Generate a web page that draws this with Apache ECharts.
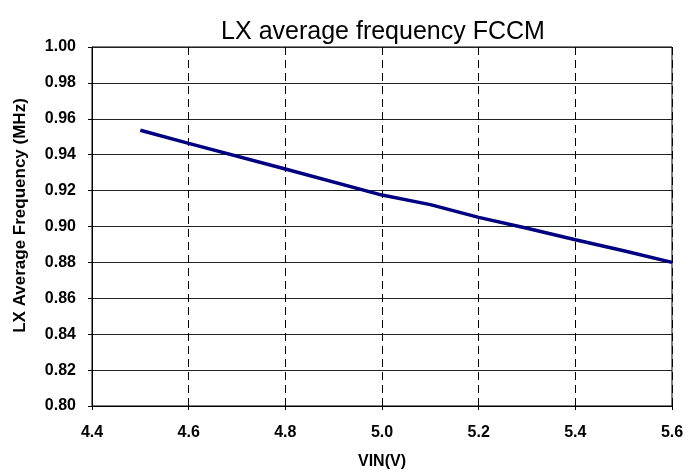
<!DOCTYPE html>
<html><head><meta charset="utf-8">
<script src="https://cdn.jsdelivr.net/npm/echarts@6/dist/echarts.min.js"></script>
<style>html,body{margin:0;padding:0;background:#fff}#c{width:700px;height:475px}</style>
</head><body><div id="c"></div>
<script>
const vin = [4.5, 4.6, 4.8, 5.0, 5.1, 5.2, 5.3, 5.4, 5.5, 5.6];
const freq = [0.9536, 0.9463, 0.932, 0.9175, 0.9122, 0.9051, 0.899, 0.8926, 0.8865, 0.880];
const titleText = 'LX average frequency FCCM';
const xName = 'VIN(V)';
const yName = 'LX Average Frequency (MHz)';

const font = 'Liberation Sans, Arial, sans-serif';
const chart = echarts.init(document.getElementById('c'));
chart.setOption({
  animation: false,
  backgroundColor: '#fff',
  title: {
    text: titleText, left: 378, top: 15, textAlign: 'center',
    textStyle: { fontFamily: font, fontSize: 25, fontWeight: 'normal', color: '#000' }
  },
  grid: { left: 92, right: 28, top: 47, bottom: 65, show: true, borderColor: '#000', borderWidth: 1 },
  xAxis: {
    type: 'value', min: 4.4, max: 5.6, interval: 0.2,
    name: xName, nameLocation: 'middle', nameGap: 48,
    nameTextStyle: { fontFamily: font, fontSize: 16, fontWeight: 'bold', color: '#000' },
    axisLine: { lineStyle: { color: '#000', width: 1 } },
    axisTick: { show: true, length: 4, lineStyle: { color: '#000' } },
    axisLabel: { margin: 19, fontFamily: font, fontSize: 16, fontWeight: 'bold', color: '#000',
      formatter: v => v.toFixed(1) },
    splitLine: { show: true, lineStyle: { color: '#000', type: [8, 5], width: 1 } }
  },
  yAxis: {
    type: 'value', min: 0.8, max: 1.0, interval: 0.02,
    name: yName, nameLocation: 'middle', nameGap: 63,
    nameTextStyle: { fontFamily: font, fontSize: 17, fontWeight: 'bold', color: '#000', padding: [0, 0, 0, 22] },
    axisLine: { show: true, lineStyle: { color: '#000', width: 1 } },
    axisTick: { show: true, length: 4, lineStyle: { color: '#000' } },
    axisLabel: { margin: 16, fontFamily: font, fontSize: 16, fontWeight: 'bold', color: '#000',
      formatter: v => v.toFixed(2) },
    splitLine: { show: true, lineStyle: { color: '#222', width: 1 } }
  },
  series: [{
    type: 'line', data: vin.map((x, i) => [x, freq[i]]),
    showSymbol: false, symbol: 'none',
    lineStyle: { color: '#000080', width: 3.5 }
  }]
});
</script></body></html>
